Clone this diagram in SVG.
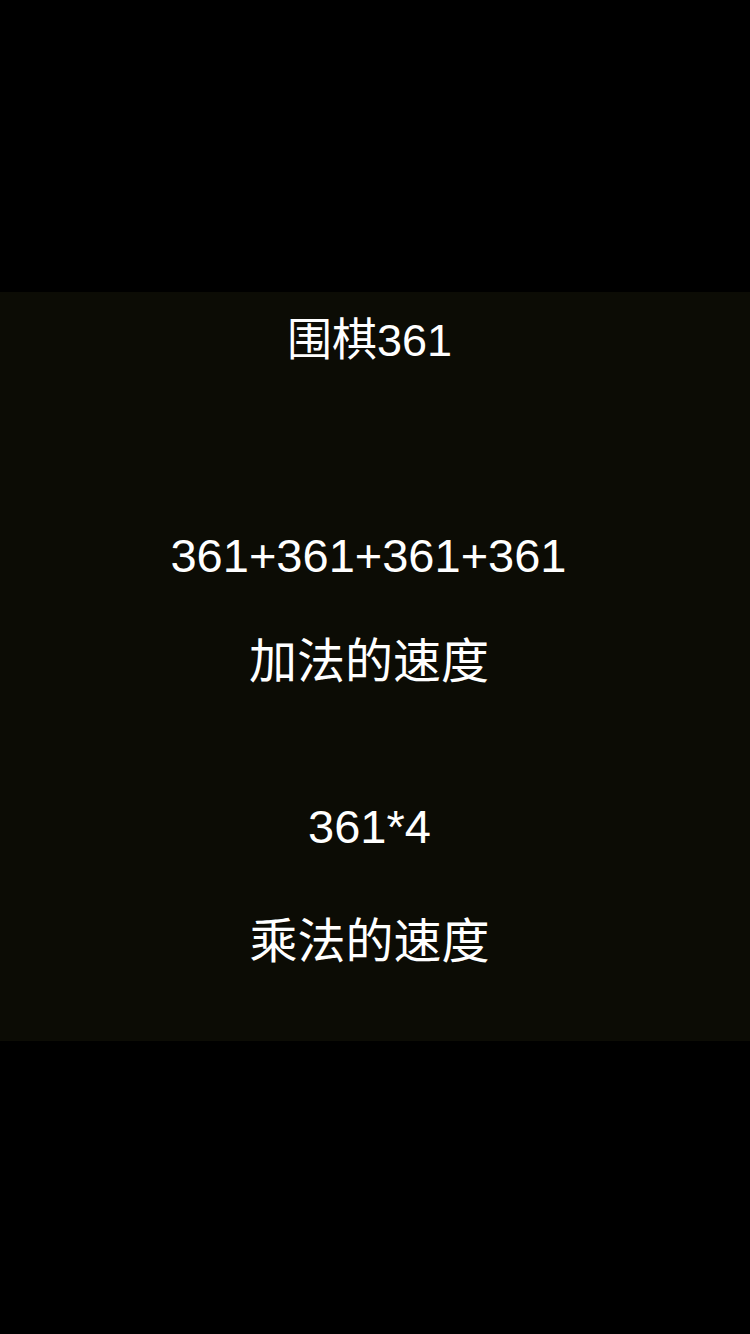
<svg xmlns="http://www.w3.org/2000/svg" width="750" height="1334" viewBox="0 0 750 1334">
<style>
.t{fill:#ffffff;font-family:"Liberation Sans","Noto Sans CJK SC",sans-serif;text-anchor:middle}
</style>
<rect x="0" y="0" width="750" height="1334" fill="#000000"/>
<rect x="0" y="292" width="750" height="749" fill="#0c0c05"/>
<g id="title"><text class="t" x="369.5" y="356" font-size="45">围棋361</text></g>
<g id="addition"><text class="t" x="368.5" y="572" font-size="47">361+361+361+361</text></g>
<g id="addition-label"><text class="t" x="369" y="678" font-size="48">加法的速度</text></g>
<g id="multiplication"><text class="t" x="369.5" y="843" font-size="47">361*4</text></g>
<g id="multiplication-label"><text class="t" x="369.5" y="958" font-size="48">乘法的速度</text></g>
</svg>
